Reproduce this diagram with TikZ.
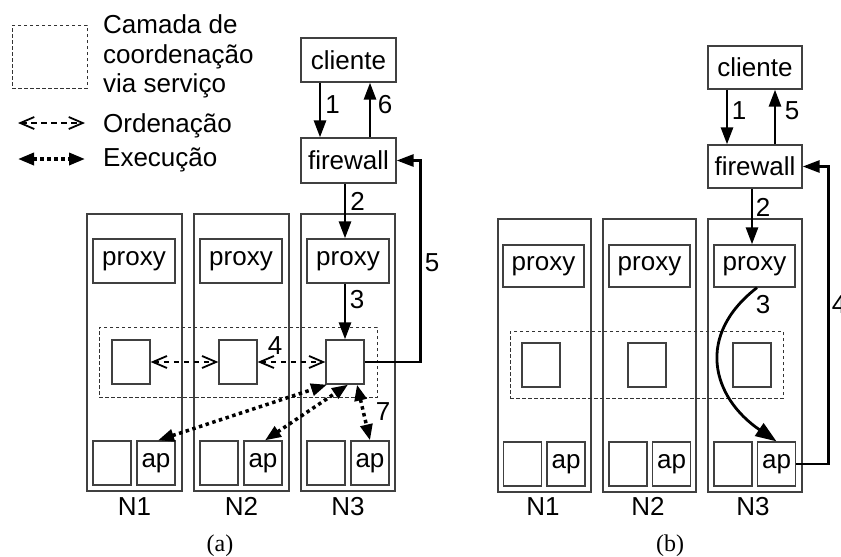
\documentclass[tikz,border=0pt]{standalone}
\usepackage{fontspec}
\setmainfont{Liberation Sans}
\newfontfamily\capfont{Liberation Serif}
\usetikzlibrary{arrows.meta}
\begin{document}
\begin{tikzpicture}[x=1pt,y=-1pt,
  every node/.style={font=\fontsize{26}{30}\selectfont},
  box/.style={draw=black!75, line width=1.3pt, inner sep=0pt},
  dbox/.style={draw=black!80, line width=1pt, dash pattern=on 3.5pt off 2.5pt, inner sep=0pt},
  sq/.style={box, minimum width=38pt, minimum height=44pt},
  txt/.style={inner sep=0pt, anchor=base west},
  num/.style={font=\fontsize{26}{30}\selectfont, inner sep=0pt},
  nlab/.style={inner sep=0pt, anchor=base},
  arr/.style={line width=2.8pt, -{Triangle[length=17pt,width=12pt]}},
  bigarr/.style={line width=2.8pt, -{Triangle[length=21pt,width=15pt]}},
  ordarr/.style={line width=2.2pt, dash pattern=on 5.5pt off 4.5pt,
     {Straight Barb[length=14pt,width=12pt,line width=1.8pt]}-{Straight Barb[length=14pt,width=12pt,line width=1.8pt]}},
  exearr/.style={line width=3.5pt, dash pattern=on 3.5pt off 3.5pt,
     {Triangle[length=16pt,width=12pt]}-{Triangle[length=16pt,width=12pt]}}
]
\clip (0,0) rectangle (841,557);
\fill[white] (0,0) rectangle (841,557);

% ---------- legend ----------
\node[dbox, minimum width=75pt, minimum height=63pt] (legbox) at (49.5,56.5) {};
\node[txt] (leg1) at (103,33) {Camada de};
\node[txt] (leg2) at (103,63.5) {coordenação};
\node[txt] (leg3) at (103,92) {via serviço};
\node[txt] (leg4) at (103,132) {Ordenação};
\node[txt] (leg5) at (103,166) {Execução};
\coordinate (o1) at (18,123); \coordinate (o2) at (85,123);
\draw[ordarr] (o1) -- (o2);
\coordinate (e1) at (18,159); \coordinate (e2) at (85,159);
\draw[exearr] (e1) -- (e2);

% ---------- panel (a) ----------
\node[box, minimum width=95pt, minimum height=44pt] (cl) at (348.5,60) {cliente};
\node[box, minimum width=95pt, minimum height=45pt] (fw) at (348.5,160.5) {firewall};
\node[box, minimum width=95pt, minimum height=277pt] (na1) at (134.5,352.5) {};
\node[box, minimum width=95pt, minimum height=277pt] (na2) at (241.5,352.5) {};
\node[box, minimum width=94pt, minimum height=277pt] (na3) at (348,352.5) {};
\node[dbox, minimum width=278pt, minimum height=70pt] (laya) at (238,362) {};
\node[box, minimum width=82pt, minimum height=44pt] (pa1) at (134,261) {proxy};
\node[box, minimum width=82pt, minimum height=44pt] (pa2) at (241,261) {proxy};
\node[box, minimum width=82pt, minimum height=44pt] (pa3) at (348,261) {proxy};
\node[sq] (sa1) at (131,362) {};
\node[sq] (sa2) at (238,362) {};
\node[sq] (sa3) at (345,362) {};
\node[sq] (ba1) at (112,463) {};
\node[sq] (apa1) at (156,463) {ap};
\node[sq] (ba2) at (219,463) {};
\node[sq] (apa2) at (263,463) {ap};
\node[sq] (ba3) at (326,463) {};
\node[sq] (apa3) at (370,463) {ap};
\node[nlab] (la1) at (134.5,515) {N1};
\node[nlab] (la2) at (241.5,515) {N2};
\node[nlab] (la3) at (348,515) {N3};
\node[inner sep=0pt, font=\capfont\fontsize{24}{28}\selectfont] (capa) at (220,546) {(a)};

\draw[arr] ([xshift=-28.5pt]cl.south) -- ([xshift=-28.5pt]fw.north);
\draw[arr] ([xshift=21.5pt]fw.north) -- ([xshift=21.5pt]cl.south);
\draw[arr] ([xshift=-3.5pt]fw.south) -- ([xshift=-3pt]pa3.north);
\draw[arr] ([xshift=-3pt]pa3.south) -- (sa3.north);
\draw[arr] (sa3.east) -- ++(56,0) |- (fw.east);
\draw[ordarr] (sa1.east) -- (sa2.west);
\draw[ordarr] (sa2.east) -- (sa3.west);
\draw[exearr] ([xshift=2pt]apa1.north) -- ([xshift=-18pt]sa3.south);
\draw[exearr] ([xshift=2pt]apa2.north) -- ([xshift=3pt]sa3.south);
\draw[exearr] ([xshift=12pt]sa3.south) -- (apa3.north);

\node[num] (a1) at (332.5,104.5) {1};
\node[num] (a6) at (385,104.5) {6};
\node[num] (a2) at (357.5,201.5) {2};
\node[num] (a3) at (357,300) {3};
\node[num] (a4) at (275,346) {4};
\node[num] (a5) at (432,263) {5};
\node[num] (a7) at (383,412) {7};

% ---------- panel (b) ----------
\node[box, minimum width=94pt, minimum height=43pt] (clb) at (755,67.5) {cliente};
\node[box, minimum width=94pt, minimum height=43pt] (fwb) at (755,166.5) {firewall};
\node[box, minimum width=93pt, minimum height=273pt] (nb1) at (544.5,355.5) {};
\node[box, minimum width=93pt, minimum height=273pt] (nb2) at (649.5,355.5) {};
\node[box, minimum width=94pt, minimum height=273pt] (nb3) at (755,355.5) {};
\node[dbox, minimum width=273pt, minimum height=67pt] (layb) at (646.5,364.5) {};
\node[box, minimum width=81pt, minimum height=42pt] (pb1) at (543.5,266) {proxy};
\node[box, minimum width=81pt, minimum height=42pt] (pb2) at (649.5,266) {proxy};
\node[box, minimum width=81pt, minimum height=42pt] (pb3) at (754.5,266) {proxy};
\node[sq] (sb1) at (541,365) {};
\node[sq] (sb2) at (647,365) {};
\node[sq] (sb3) at (752,365) {};
\node[sq] (bb1) at (522.5,464) {};
\node[sq] (apb1) at (566,464) {ap};
\node[sq] (bb2) at (628,464) {};
\node[sq] (apb2) at (671.5,464) {ap};
\node[sq] (bb3) at (733,464) {};
\node[sq] (apb3) at (776.5,464) {ap};
\node[nlab] (lb1) at (543,515) {N1};
\node[nlab] (lb2) at (648,515) {N2};
\node[nlab] (lb3) at (753,515) {N3};
\node[inner sep=0pt, font=\capfont\fontsize{24}{28}\selectfont] (capb) at (670,546) {(b)};

\draw[arr] ([xshift=-28pt]clb.south) -- ([xshift=-28pt]fwb.north);
\draw[arr] ([xshift=20pt]fwb.north) -- ([xshift=20pt]clb.south);
\draw[arr] ([xshift=-3pt]fwb.south) -- ([xshift=-2.5pt]pb3.north);
\draw[bigarr] ([xshift=2.5pt]pb3.south) .. controls +(-62,48) and +(-64.5,-44) .. (apb3.north);
\draw[arr] (apb3.east) -- ++(32,0) |- (fwb.east);

\node[num] (b1) at (739,111) {1};
\node[num] (b5) at (792,111) {5};
\node[num] (b2) at (763,207) {2};
\node[num] (b3) at (763,305) {3};
\node[num] (b4) at (839,305) {4};
\end{tikzpicture}
\end{document}
